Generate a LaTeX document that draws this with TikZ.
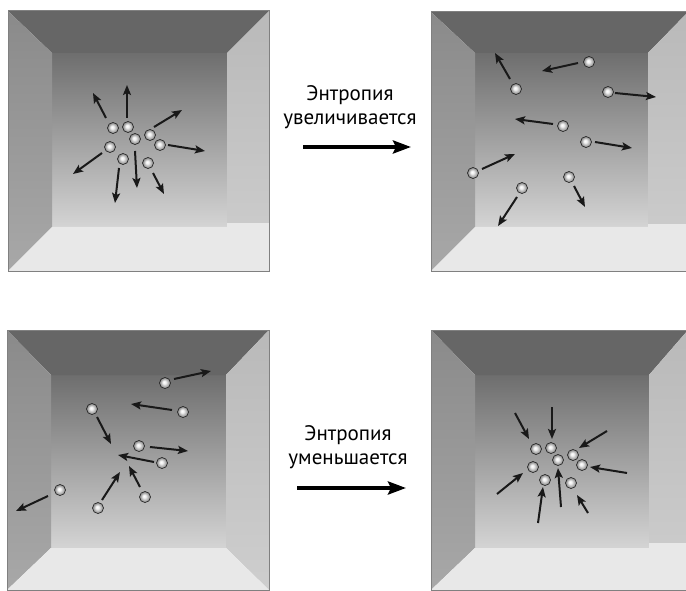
\documentclass[tikz,border=0pt]{standalone}
\usepackage{fontspec}
\setmainfont{PT Sans}
\usetikzlibrary{arrows.meta,positioning}

\pgfdeclareradialshading{pearl}{\pgfpoint{-5bp}{5bp}}{color(0bp)=(white); color(7bp)=(white!94!black); color(17bp)=(black!32); color(25bp)=(black!45)}

% outer corners #1..#4, back wall #5..#8, #9 = where the right wall stops
\newcommand{\room}[9]{
	\shade[top color=backTopColour, bottom color=backBottomColour] (#5,#6) rectangle (#7,#8);
	\fill[color=ceilingColour] (#1,#2) -- (#3,#2) -- (#7,#6) -- (#5,#6) -- cycle;
	\shade[top color=leftTopColour, bottom color=leftBottomColour] (#1,#2) -- (#5,#6) -- (#5,#8) -- (#1,#4) -- cycle;
	\shade[top color=rightTopColour, bottom color=rightBottomColour] (#3,#2) -- (#7,#6) -- (#7,#8) -- (#3,#4) -- cycle;
	\fill[color=floorColour] (#1,#4) -- (#5,#8) -- (#7,#8) -- (#3,#4) -- cycle;
	\fill[color=floorColour] (#7,#9) rectangle (#3,#4);
	\draw[color=frameColour, line width=1pt] (#1,#2) rectangle (#3,#4);
}

\begin{document}
\begin{tikzpicture}[x=1pt, y=-1pt,
		ball/.style={circle, draw=black!85, line width=0.7pt, inner sep=0pt, minimum size=11pt, shading=pearl},
		vec/.style={-{Stealth[length=10pt, width=8pt, inset=2pt]}, line width=2pt, color=black!90},
		bigvec/.style={-{Stealth[length=18pt, width=13pt, inset=3pt]}, line width=3.8pt, color=black},
		caption/.style={align=center, font=\fontsize{21}{24}\selectfont}]
					\definecolor{ceilingColour}{RGB}{102, 102, 102}
					\definecolor{backTopColour}{RGB}{110, 110, 110}
					\definecolor{backBottomColour}{RGB}{212, 212, 212}
					\definecolor{leftTopColour}{RGB}{138, 138, 138}
					\definecolor{leftBottomColour}{RGB}{168, 168, 168}
					\definecolor{rightTopColour}{RGB}{185, 185, 185}
					\definecolor{rightBottomColour}{RGB}{206, 206, 206}
					\definecolor{floorColour}{RGB}{232, 232, 232}
					\definecolor{frameColour}{RGB}{128, 128, 128}

					\useasboundingbox (0,0) rectangle (686,591);

					\room{8}{11}{269}{271}{52}{53}{227}{227}{223}
					\room{431}{12}{688}{271}{475}{53}{648}{227}{224}
					\room{7}{330}{269}{590}{51}{375}{226}{548}{590}
					\room{431}{330}{688}{590}{475}{375}{649}{548}{543}

					% velocities
					\foreach \ax/\ay/\bx/\by in {106/118/93/93, 127/118/127/85, 154/127/182/110, 168/145/205/151,
							102/153/73/174, 119/168/115/203, 135/151/137/188, 153/173/164/194,
							578/63/542/71, 510/79/495/53, 615/93/656/97, 553/124/515/119,
							595/142/632/148, 482/169/515/154, 574/186/585/207, 517/197/498/226,
							174/379/211/371, 172/410/131/404, 97/417/111/444, 150/447/188/451,
							154/462/118/455, 140/487/129/466, 102/500/120/472, 48/496/16/511,
							515/413/529/439, 552/407/552/439, 607/431/579/448, 627/473/590/467,
							497/494/523/473, 538/523/543/487, 561/507/558/468, 588/513/577/495}
						\draw[vec] (\ax,\ay) -- (\bx,\by);

					% molecules
					\foreach \x/\y [count=\i] in {113/128, 128/127, 135/139, 150/135, 160/145, 110/147, 123/159, 148/163,
							589/62, 516/89, 608/92, 563/126, 586/142, 473/173, 569/177, 522/188,
							165/383, 183/412, 92/409, 139/446, 162/463, 60/490, 145/497, 98/508,
							536/449, 551/448, 558/460, 573/455, 582/465, 533/467, 545/480, 571/483}
						\node[ball] (m\i) at (\x,\y) {};

					\node[caption] (upText) at (350,107) {Энтропия\\увеличивается};
					\coordinate (upFrom) at (303,147);
					\coordinate (upTo) at (411,147);
					\draw[bigvec] (upFrom) -- (upTo);

					\node[caption] (downText) at (348,447) {Энтропия\\уменьшается};
					\coordinate (downFrom) at (297,488);
					\coordinate (downTo) at (406,488);
					\draw[bigvec] (downFrom) -- (downTo);
				\end{tikzpicture}
\end{document}
